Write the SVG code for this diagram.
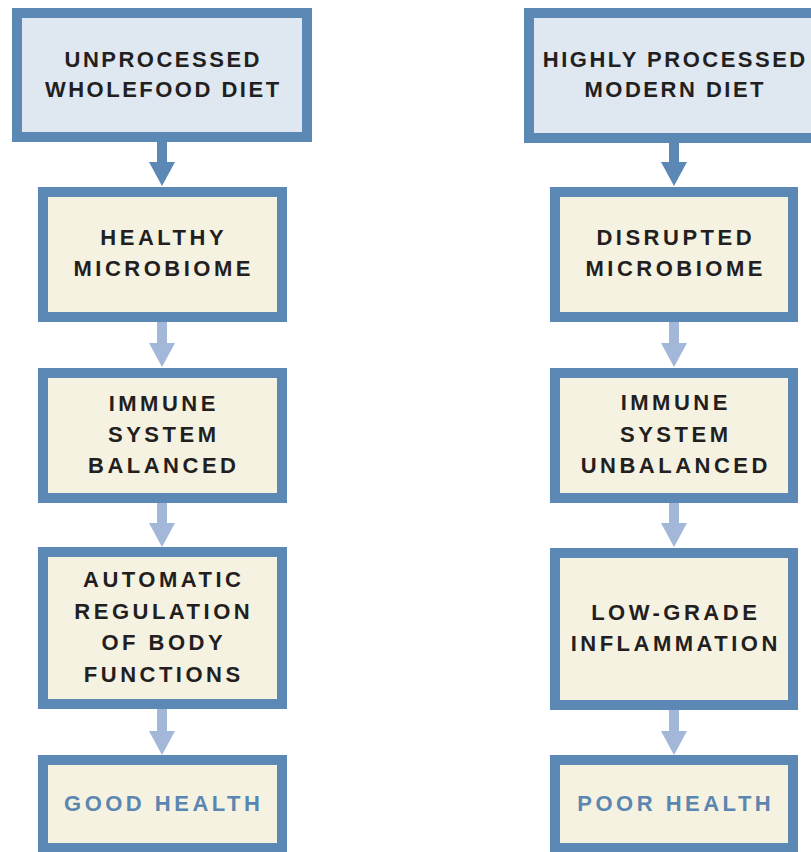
<svg xmlns="http://www.w3.org/2000/svg" width="811" height="852" viewBox="0 0 811 852">
  <style>
    .box { stroke: #5b88b5; stroke-width: 10; }
    .top { fill: #dfe8f1; }
    .mid { fill: #f6f2e2; }
    text { font-family: "Liberation Sans", Arial, sans-serif; font-weight: 700; font-size: 22px; fill: #231f20; text-anchor: middle; letter-spacing: 3.5px; }
    text.t { letter-spacing: 2.5px; }
    text.out { fill: #5b86b0; }
    .dark { fill: #5b88b5; }
    .light { fill: #a3b8d8; }
  </style>
  <rect width="811" height="852" fill="#ffffff"/>

  <g id="connectors">
    <path class="dark" d="M157 142 V162 H149 L162 186 L175 162 H167 V142 Z"/>
    <path class="light" d="M157 322 V343 H149 L162 367 L175 343 H167 V322 Z"/>
    <path class="light" d="M157 503 V523 H149 L162 547 L175 523 H167 V503 Z"/>
    <path class="light" d="M157 709 V731 H149 L162 755 L175 731 H167 V709 Z"/>
    <path class="dark" d="M669 142 V162 H661 L674 186 L687 162 H679 V142 Z"/>
    <path class="light" d="M669 322 V343 H661 L674 367 L687 343 H679 V322 Z"/>
    <path class="light" d="M669 503 V523 H661 L674 547 L687 523 H679 V503 Z"/>
    <path class="light" d="M669 710 V731 H661 L674 755 L687 731 H679 V710 Z"/>
  </g>

  <g id="left-diet">
    <rect class="box top" x="17" y="13" width="290" height="124"/>
    <text class="t" x="163.25" y="67">UNPROCESSED</text>
    <text class="t" x="163.25" y="97">WHOLEFOOD DIET</text>
  </g>
  <g id="left-microbiome">
    <rect class="box mid" x="43" y="192" width="239" height="125"/>
    <text x="163.75" y="245">HEALTHY</text>
    <text x="163.75" y="276">MICROBIOME</text>
  </g>
  <g id="left-immune">
    <rect class="box mid" x="43" y="373" width="239" height="125"/>
    <text x="163.75" y="411">IMMUNE</text>
    <text x="163.75" y="442">SYSTEM</text>
    <text x="163.75" y="473">BALANCED</text>
  </g>
  <g id="left-regulation">
    <rect class="box mid" x="43" y="552" width="239" height="152"/>
    <text x="163.75" y="587">AUTOMATIC</text>
    <text x="163.75" y="619">REGULATION</text>
    <text x="163.75" y="650">OF BODY</text>
    <text x="163.75" y="682">FUNCTIONS</text>
  </g>
  <g id="left-health">
    <rect class="box mid" x="43" y="760" width="239" height="88"/>
    <text class="out" x="163.75" y="811">GOOD HEALTH</text>
  </g>

  <g id="right-diet">
    <rect class="box top" x="529" y="13" width="290" height="125"/>
    <text class="t" x="675.25" y="67">HIGHLY PROCESSED</text>
    <text class="t" x="675.25" y="97">MODERN DIET</text>
  </g>
  <g id="right-microbiome">
    <rect class="box mid" x="555" y="192" width="238" height="125"/>
    <text x="675.75" y="245">DISRUPTED</text>
    <text x="675.75" y="276">MICROBIOME</text>
  </g>
  <g id="right-immune">
    <rect class="box mid" x="555" y="373" width="238" height="125"/>
    <text x="675.75" y="410">IMMUNE</text>
    <text x="675.75" y="442">SYSTEM</text>
    <text x="675.75" y="473">UNBALANCED</text>
  </g>
  <g id="right-inflammation">
    <rect class="box mid" x="555" y="553" width="238" height="152"/>
    <text x="675.75" y="620">LOW-GRADE</text>
    <text x="675.75" y="651">INFLAMMATION</text>
  </g>
  <g id="right-health">
    <rect class="box mid" x="555" y="760" width="238" height="88"/>
    <text class="out" x="675.75" y="811">POOR HEALTH</text>
  </g>
</svg>
